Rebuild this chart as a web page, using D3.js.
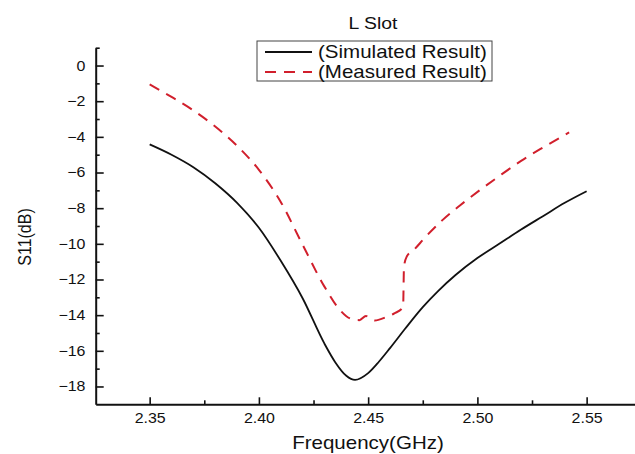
<!DOCTYPE html>
<html>
<head>
<meta charset="utf-8">
<script src="https://cdn.jsdelivr.net/npm/d3@7"></script>
<style>
  html, body { margin: 0; padding: 0; background: #fff; }
  text { font-family: "Liberation Sans", Arial, sans-serif; fill: #111; }
</style>
</head>
<body>
<svg id="chart"></svg>
<script>
'use strict'

// simulated S11 (solid black)
const simFreq = [2.350, 2.360, 2.370, 2.380, 2.390, 2.400, 2.410, 2.420, 2.430, 2.435, 2.440, 2.444,
                 2.450, 2.455, 2.460, 2.467, 2.475, 2.482, 2.490, 2.500, 2.510, 2.520, 2.530, 2.540, 2.550]
const simS11 = [-4.42, -5.0, -5.7, -6.6, -7.7, -9.1, -10.95, -13.05, -15.6, -16.65, -17.4, -17.63,
                -17.25, -16.6, -15.85, -14.75, -13.55, -12.65, -11.75, -10.8, -10.0, -9.2, -8.45, -7.7, -7.05]

// measured S11 (dashed red)
const measFreq = [2.350, 2.360, 2.370, 2.380, 2.390, 2.400, 2.410, 2.420, 2.430, 2.437, 2.442, 2.446,
                  2.449, 2.453, 2.458, 2.462, 2.466, 2.4664, 2.4676, 2.471, 2.476, 2.484, 2.492, 2.501,
                  2.510, 2.520, 2.530, 2.542]
const measS11 = [-1.06, -1.76, -2.52, -3.42, -4.5, -5.85, -7.65, -10.05, -12.4, -13.7, -14.2, -14.28,
                 -14.05, -14.3, -14.12, -13.9, -13.55, -11.3, -10.73, -10.33, -9.65, -8.67, -7.85, -7.0,
                 -6.2, -5.35, -4.6, -3.75]

const xMajor = [2.35, 2.40, 2.45, 2.50, 2.55]
const xMinor = [2.375, 2.425, 2.475, 2.525]
const yMajor = [0, -2, -4, -6, -8, -10, -12, -14, -16, -18]
const yMinor = [1, -1, -3, -5, -7, -9, -11, -13, -15, -17]

const seriesNames = ["(Simulated Result)", "(Measured Result)"]

const width = 635,
      height = 454,
      stretch = 1.14   // the original text is a bit wider than it is tall

const svg = d3.select("#chart")
  .attr("width", width)
  .attr("height", height)

const x = d3.scaleLinear().domain([2.3253, 2.5747]).range([95.7, 640.6])
const y = d3.scaleLinear().domain([-19, 1]).range([404.3, 47.7])

// axes
svg.append("g")
  .attr("transform", `translate(0,${y(-19)})`)
  .call(d3.axisBottom(x).tickValues(xMajor).tickSizeInner(-7).tickSizeOuter(0)
          .tickPadding(9).tickFormat(d3.format(".2f")))
svg.append("g")
  .attr("transform", `translate(0,${y(-19)})`)
  .call(d3.axisBottom(x).tickValues(xMinor).tickSizeInner(-4).tickSizeOuter(0).tickFormat(""))
  .call(g => g.select(".domain").remove())

svg.append("g")
  .attr("transform", `translate(${x(2.3253)},0)`)
  .call(d3.axisLeft(y).tickValues(yMajor).tickSizeInner(-8).tickSizeOuter(0).tickPadding(9))
svg.append("g")
  .attr("transform", `translate(${x(2.3253)},0)`)
  .call(d3.axisLeft(y).tickValues(yMinor).tickSizeInner(-4).tickSizeOuter(0).tickFormat(""))
  .call(g => g.select(".domain").remove())

svg.selectAll(".domain").attr("stroke", "#111").attr("stroke-width", 2)
svg.selectAll(".tick line").attr("stroke", "#111").attr("stroke-width", 1.6)
svg.selectAll(".tick text")
  .attr("font-size", 14)
  .attr("font-family", null)
  .attr("fill", "#222")
  .attr("transform", `scale(${stretch},1)`)

// axis titles and chart title
svg.append("text")
  .attr("transform", `translate(368,449) scale(${stretch},1)`)
  .attr("text-anchor", "middle")
  .attr("font-size", 18)
  .text("Frequency(GHz)")

svg.append("text")
  .attr("transform", `translate(31,237) rotate(-90) scale(1,${stretch})`)
  .attr("text-anchor", "middle")
  .attr("font-size", 16)
  .text("S11(dB)")

svg.append("text")
  .attr("transform", `translate(373,29) scale(${stretch},1)`)
  .attr("text-anchor", "middle")
  .attr("font-size", 17)
  .text("L Slot")

// curves
const line = d3.line()
  .x(d => x(d[0]))
  .y(d => y(d[1]))
  .curve(d3.curveMonotoneX)

svg.append("path")
  .datum(simFreq.map((f, i) => [f, simS11[i]]))
  .attr("d", line)
  .attr("fill", "none")
  .attr("stroke", "#111")
  .attr("stroke-width", 1.8)

svg.append("path")
  .datum(measFreq.map((f, i) => [f, measS11[i]]))
  .attr("d", line)
  .attr("fill", "none")
  .attr("stroke", "#d11f2c")
  .attr("stroke-width", 2)
  .attr("stroke-dasharray", "11,8")

// legend
const legend = svg.append("g")
legend.append("rect")
  .attr("x", 257).attr("y", 41).attr("width", 235).attr("height", 40)
  .attr("fill", "#fff").attr("stroke", "#444").attr("stroke-width", 1)

const legendStyles = [
  { stroke: "#111", dash: null, width: 1.8 },
  { stroke: "#d11f2c", dash: "11,8", width: 2 }
]
seriesNames.forEach((name, i) => {
  const yy = 52 + i * 20
  legend.append("line")
    .attr("x1", 265).attr("x2", 312).attr("y1", yy).attr("y2", yy)
    .attr("stroke", legendStyles[i].stroke)
    .attr("stroke-width", legendStyles[i].width)
    .attr("stroke-dasharray", legendStyles[i].dash)
  legend.append("text")
    .attr("transform", `translate(318,${yy + 6}) scale(${stretch},1)`)
    .attr("font-size", 18)
    .text(name)
})
</script>
</body>
</html>
